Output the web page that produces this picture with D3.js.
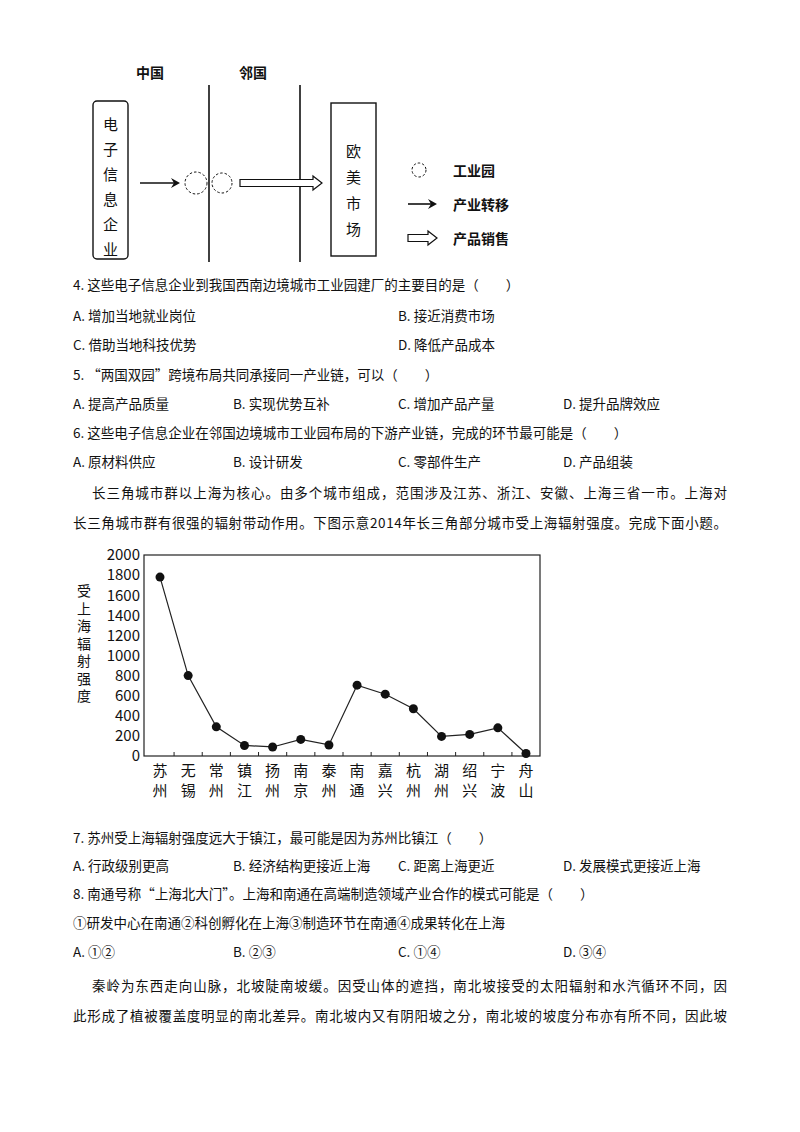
<!DOCTYPE html>
<html><head><meta charset="utf-8">
<script src="https://cdn.jsdelivr.net/npm/d3@7"></script>
<style>
body{margin:0;background:#fff}
text{font-family:"Noto Sans CJK SC","DejaVu Serif",serif;fill:#111}
</style></head>
<body>
<svg id="page" width="800" height="1132"></svg>
<script>
var cities = ["苏州","无锡","常州","镇江","扬州","南京","泰州","南通","嘉兴","杭州","湖州","绍兴","宁波","舟山"];
var strength = [1780, 800, 290, 105, 90, 165, 110, 705, 615, 470, 195, 215, 280, 25];
var yTicks = [0, 200, 400, 600, 800, 1000, 1200, 1400, 1600, 1800, 2000];

var lines = [
  [73, 290, "4. 这些电子信息企业到我国西南边境城市工业园建厂的主要目的是（　　）"],
  [73, 321, "A. 增加当地就业岗位"], [398, 321, "B. 接近消费市场"],
  [73, 350, "C. 借助当地科技优势"], [398, 350, "D. 降低产品成本"],
  [73, 380, "5. “两国双园”跨境布局共同承接同一产业链，可以（　　）"],
  [73, 409, "A. 提高产品质量"], [233, 409, "B. 实现优势互补"], [398, 409, "C. 增加产品产量"], [563, 409, "D. 提升品牌效应"],
  [73, 438, "6. 这些电子信息企业在邻国边境城市工业园布局的下游产业链，完成的环节最可能是（　　）"],
  [73, 467, "A. 原材料供应"], [233, 467, "B. 设计研发"], [398, 467, "C. 零部件生产"], [563, 467, "D. 产品组装"],
  [92, 498, "长三角城市群以上海为核心。由多个城市组成，范围涉及江苏、浙江、安徽、上海三省一市。上海对"],
  [73, 528, "长三角城市群有很强的辐射带动作用。下图示意2014年长三角部分城市受上海辐射强度。完成下面小题。"],
  [73, 843, "7. 苏州受上海辐射强度远大于镇江，最可能是因为苏州比镇江（　　）"],
  [73, 871, "A. 行政级别更高"], [233, 871, "B. 经济结构更接近上海"], [398, 871, "C. 距离上海更近"], [563, 871, "D. 发展模式更接近上海"],
  [73, 899, "8. 南通号称“上海北大门”。上海和南通在高端制造领域产业合作的模式可能是（　　）"],
  [73, 928, "①研发中心在南通②科创孵化在上海③制造环节在南通④成果转化在上海"],
  [73, 957, "A. ①②"], [233, 957, "B. ②③"], [398, 957, "C. ①④"], [563, 957, "D. ③④"],
  [92, 991, "秦岭为东西走向山脉，北坡陡南坡缓。因受山体的遮挡，南北坡接受的太阳辐射和水汽循环不同，因"],
  [73, 1021, "此形成了植被覆盖度明显的南北差异。南北坡内又有阴阳坡之分，南北坡的坡度分布亦有所不同，因此坡"]
];

var svg = d3.select("#page");

lines.forEach(function(l) {
  var t = svg.append("text").attr("x", l[0]).attr("y", l[1]).attr("font-size", 13.5).text(l[2]);
  if (l[0] === 92 || (l[2].indexOf("长三角城市群有") === 0) || (l[2].indexOf("此形成") === 0)) {
    t.attr("textLength", 727 - l[0]).attr("lengthAdjust", "spacing");
  }
});

/* diagram */
var dg = svg.append("g").attr("stroke", "#111").attr("fill", "none");
svg.append("text").attr("x", 136).attr("y", 78).attr("font-size", 14).attr("font-weight", "bold").text("中国");
svg.append("text").attr("x", 239).attr("y", 78).attr("font-size", 14).attr("font-weight", "bold").text("邻国");
dg.append("line").attr("x1", 209).attr("x2", 209).attr("y1", 85).attr("y2", 262).attr("stroke-width", 1.6);
dg.append("line").attr("x1", 300).attr("x2", 300).attr("y1", 85).attr("y2", 262).attr("stroke-width", 1.6);
dg.append("rect").attr("x", 93).attr("y", 101).attr("width", 35).attr("height", 158).attr("rx", 4).attr("stroke-width", 1.4);
dg.append("rect").attr("x", 331).attr("y", 103).attr("width", 45).attr("height", 153).attr("stroke-width", 1.4);
"电子信息企业".split("").forEach(function(c, i) {
  svg.append("text").attr("x", 110.5).attr("y", 130 + i * 25).attr("text-anchor", "middle").attr("font-size", 15).text(c);
});
"欧美市场".split("").forEach(function(c, i) {
  svg.append("text").attr("x", 353.5).attr("y", 157 + i * 26).attr("text-anchor", "middle").attr("font-size", 15).text(c);
});

function arrow(x1, x2, y) {
  dg.append("line").attr("x1", x1).attr("x2", x2 - 2).attr("y1", y).attr("y2", y).attr("stroke-width", 1.6);
  svg.append("path").attr("d", "M" + (x2 - 9) + "," + (y - 5) + "L" + x2 + "," + y + "L" + (x2 - 9) + "," + (y + 5) + "L" + (x2 - 6) + "," + y + "Z").attr("fill", "#111");
}
function hollow(x1, x2, y) {
  var h = 3.5, hw = 7, hl = 9;
  dg.append("path").attr("stroke-width", 1.2).attr("fill", "#fff")
    .attr("d", "M" + x1 + "," + (y - h) + "L" + (x2 - hl) + "," + (y - h) + "L" + (x2 - hl) + "," + (y - hw) + "L" + x2 + "," + y +
      "L" + (x2 - hl) + "," + (y + hw) + "L" + (x2 - hl) + "," + (y + h) + "L" + x1 + "," + (y + h) + "Z");
}
function park(cx, cy, r) {
  dg.append("circle").attr("cx", cx).attr("cy", cy).attr("r", r).attr("stroke-dasharray", "2.5,2").attr("stroke-width", 1);
}
arrow(140, 180, 183);
park(196, 183, 11); park(222, 183, 10);
hollow(240, 322, 183);
park(419, 170, 7);
arrow(408, 437, 204);
hollow(408, 437, 238);
[["工业园", 176], ["产业转移", 210], ["产品销售", 244]].forEach(function(d) {
  svg.append("text").attr("x", 453).attr("y", d[1]).attr("font-size", 14).attr("font-weight", "bold").text(d[0]);
});

/* line chart */
var x = d3.scalePoint().domain(cities).range([160, 526]);
var y = d3.scaleLinear().domain([0, 2000]).range([756, 555]);
var cg = svg.append("g");
cg.append("rect").attr("x", 144).attr("y", 555).attr("width", 396).attr("height", 201)
  .attr("fill", "none").attr("stroke", "#222").attr("stroke-width", 1.2);
var ya = cg.append("g").attr("transform", "translate(144,0)")
  .call(d3.axisLeft(y).tickValues(yTicks).tickFormat(d3.format("d")).tickSize(0).tickPadding(4));
ya.select(".domain").remove();
ya.selectAll("text").attr("font-size", 15).attr("font-family", "Liberation Serif, serif").attr("fill", "#111");
var step = x.step();
cg.selectAll(".xt").data(cities.slice(1)).enter().append("line")
  .attr("x1", function(d) { return x(d) - step / 2; }).attr("x2", function(d) { return x(d) - step / 2; })
  .attr("y1", 756).attr("y2", 752).attr("stroke", "#222");
cities.forEach(function(c) {
  c.split("").forEach(function(ch, i) {
    cg.append("text").attr("x", x(c)).attr("y", 776 + i * 20).attr("text-anchor", "middle").attr("font-size", 15).text(ch);
  });
});
cg.append("text").attr("x", 84).attr("y", 584).attr("font-size", 14)
  .style("writing-mode", "vertical-rl").attr("letter-spacing", 3.5)
  .text("受上海辐射强度");
cg.append("path").datum(strength)
  .attr("d", d3.line().x(function(d, i) { return x(cities[i]); }).y(function(d) { return y(d); }))
  .attr("fill", "none").attr("stroke", "#222").attr("stroke-width", 1.2);
cg.selectAll(".dot").data(strength).enter().append("circle")
  .attr("cx", function(d, i) { return x(cities[i]); }).attr("cy", function(d) { return y(d); })
  .attr("r", 4.5).attr("fill", "#111");
</script>
</body></html>
